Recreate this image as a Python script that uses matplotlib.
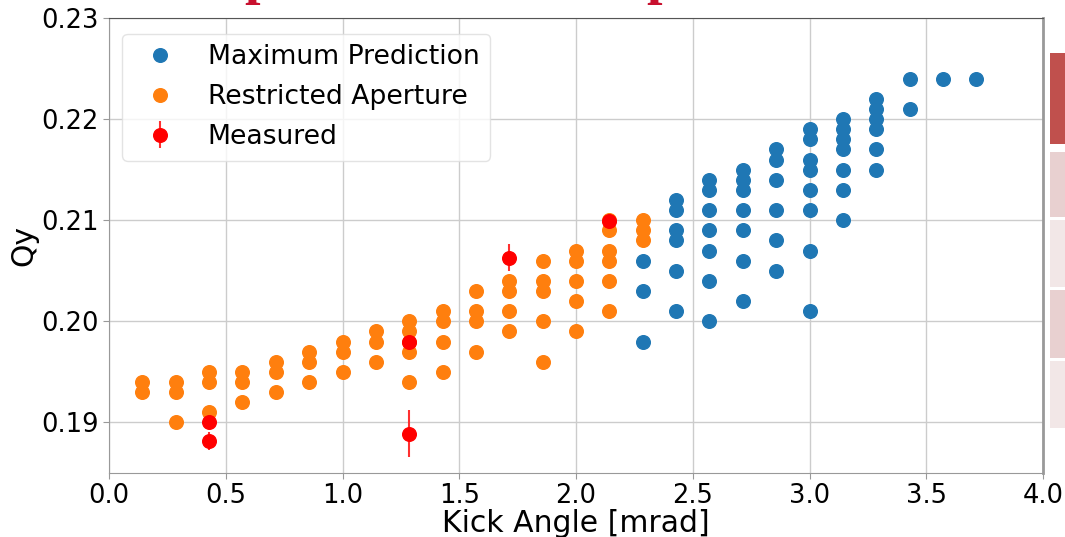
import matplotlib
matplotlib.use("Agg")
import matplotlib.pyplot as plt
from matplotlib.patches import Rectangle

# Maximum Prediction (blue)
max_x = [2.286, 2.286, 2.286,
         2.429, 2.429, 2.429, 2.429, 2.429, 2.429,
         2.571, 2.571, 2.571, 2.571, 2.571, 2.571, 2.571,
         2.714, 2.714, 2.714, 2.714, 2.714, 2.714, 2.714,
         2.857, 2.857, 2.857, 2.857, 2.857, 2.857,
         3.000, 3.000, 3.000, 3.000, 3.000, 3.000, 3.000, 3.000,
         3.143, 3.143, 3.143, 3.143, 3.143, 3.143, 3.143,
         3.286, 3.286, 3.286, 3.286, 3.286, 3.286,
         3.429, 3.429, 3.571, 3.714]
max_y = [0.206, 0.203, 0.198,
         0.212, 0.211, 0.209, 0.208, 0.205, 0.201,
         0.214, 0.213, 0.211, 0.209, 0.207, 0.204, 0.200,
         0.215, 0.214, 0.213, 0.211, 0.209, 0.206, 0.202,
         0.217, 0.216, 0.214, 0.211, 0.208, 0.205,
         0.219, 0.218, 0.216, 0.215, 0.213, 0.211, 0.207, 0.201,
         0.220, 0.219, 0.218, 0.217, 0.215, 0.213, 0.210,
         0.222, 0.221, 0.220, 0.219, 0.217, 0.215,
         0.224, 0.221, 0.224, 0.224]

# Restricted Aperture (orange)
ra_x = [0.143, 0.143,
        0.286, 0.286, 0.286,
        0.429, 0.429, 0.429,
        0.571, 0.571, 0.571,
        0.714, 0.714, 0.714,
        0.857, 0.857, 0.857,
        1.000, 1.000, 1.000,
        1.143, 1.143, 1.143,
        1.286, 1.286, 1.286, 1.286, 1.286,
        1.429, 1.429, 1.429, 1.429,
        1.571, 1.571, 1.571, 1.571,
        1.714, 1.714, 1.714, 1.714,
        1.857, 1.857, 1.857, 1.857, 1.857,
        2.000, 2.000, 2.000, 2.000, 2.000,
        2.143, 2.143, 2.143, 2.143, 2.143, 2.143,
        2.286, 2.286, 2.286]
ra_y = [0.194, 0.193,
        0.194, 0.193, 0.190,
        0.195, 0.194, 0.191,
        0.195, 0.194, 0.192,
        0.196, 0.195, 0.193,
        0.197, 0.196, 0.194,
        0.198, 0.197, 0.195,
        0.199, 0.198, 0.196,
        0.200, 0.199, 0.198, 0.197, 0.194,
        0.201, 0.200, 0.198, 0.195,
        0.203, 0.201, 0.200, 0.197,
        0.204, 0.203, 0.201, 0.199,
        0.206, 0.204, 0.203, 0.200, 0.196,
        0.207, 0.206, 0.204, 0.202, 0.199,
        0.210, 0.209, 0.207, 0.206, 0.204, 0.201,
        0.210, 0.209, 0.208]

# Measured (red, with error bars)
meas_x = [0.429, 0.429, 1.286, 1.286, 1.714, 2.143]
meas_y = [0.1900, 0.1882, 0.1980, 0.1889, 0.2063, 0.2099]
meas_err = [0.0003, 0.0009, 0.0002, 0.0023, 0.0013, 0.0003]

xticks = [0.0, 0.5, 1.0, 1.5, 2.0, 2.5, 3.0, 3.5, 4.0]
yticks = [0.19, 0.20, 0.21, 0.22, 0.23]

fig = plt.figure(figsize=(10.65, 5.37), dpi=100)
ax = fig.add_axes([109/1065, 1 - 473/537, (1043 - 109)/1065, (473 - 18)/537])

ms = 9.8
ax.plot(max_x, max_y, 'o', color='#1f77b4', ms=ms, ls='none', label='Maximum Prediction', zorder=3)
ax.plot(ra_x, ra_y, 'o', color='#ff7f0e', ms=ms, ls='none', label='Restricted Aperture', zorder=3)
ax.errorbar(meas_x, meas_y, yerr=meas_err, fmt='o', color='red', ms=ms,
            ecolor='#ff3030', elinewidth=1.5, capsize=0, label='Measured', zorder=4)

ax.set_xlim(0, 4.0)
ax.set_ylim(0.185, 0.23)
ax.set_xticks(xticks)
ax.set_yticks(yticks)
ax.set_xticklabels([f"{t:.1f}" for t in xticks])
ax.set_yticklabels([f"{t:.2f}" for t in yticks])
ax.grid(True, color='#cccccc', linewidth=1.0)
ax.set_axisbelow(True)
ax.tick_params(labelsize=18.5, color='#999999', length=4)
for s in ['left', 'bottom', 'right']:
    ax.spines[s].set_color('#999999')
ax.spines['right'].set_linewidth(2.0)
ax.spines['top'].set_color('#555555')

ax.set_xlabel('Kick Angle [mrad]', fontsize=21.5, labelpad=0)
ax.set_ylabel('Qy', fontsize=21.5, labelpad=2)

leg = ax.legend(loc='upper left', fontsize=19.2, numpoints=1, handletextpad=0.8,
                borderpad=0.4, labelspacing=0.52, bbox_to_anchor=(0.0, 0.995),
                borderaxespad=0.5)
leg.get_frame().set_edgecolor('#dddddd')

# Decorative side boxes (from the surrounding slide)
boxes = [(53, 144, '#c0504d'), (152, 217, '#e8d0d0'), (220, 287, '#f2e7e7'),
         (290, 358, '#e8d0d0'), (361, 428, '#f2e7e7')]
for top, bot, col in boxes:
    fig.patches.append(Rectangle((1050/1065, 1 - bot/537), 15/1065, (bot - top)/537,
                                 transform=fig.transFigure, facecolor=col,
                                 edgecolor='none', figure=fig))

# Clipped slide title fragments at the top edge
for xp in [260, 662]:
    fig.text(xp/1065, 1 + 7/537, 'p', color='#c8102e', fontsize=40,
             family='Liberation Serif', fontweight='bold', ha='center', va='baseline')

fig.savefig('out.png', dpi=100)
